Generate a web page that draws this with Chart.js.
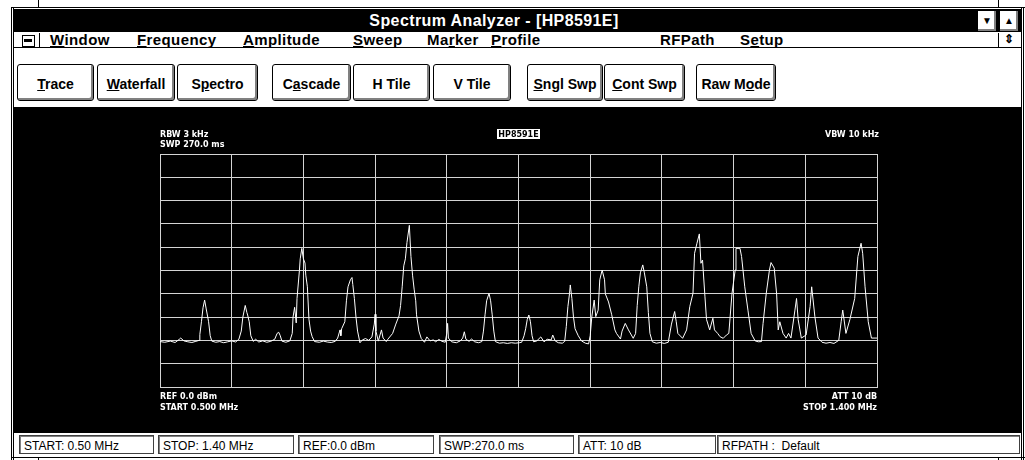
<!DOCTYPE html>
<html>
<head>
<meta charset="utf-8">
<title>Spectrum Analyzer - [HP8591E]</title>
<script src="https://cdn.jsdelivr.net/npm/chart.js@4.4.1/dist/chart.umd.min.js"></script>
<style>
  html, body { margin: 0; padding: 0; background: #fff; }
  body { width: 1025px; height: 460px; position: relative; overflow: hidden; font-family: "Liberation Sans", Arial, sans-serif; }
  .abs { position: absolute; }
  .line { position: absolute; background: #000; }
  #titlebar { left: 13px; top: 9px; width: 1008px; height: 23px; background: #000; }
  #titletext { left: 13px; top: 9px; width: 962px; height: 23px; line-height: 23px; text-align: center; color: #fff; font-weight: bold; font-size: 16px; letter-spacing: 0.4px; }
  .capbtn { position: absolute; width: 18px; height: 20px; background: #fff; border: 1px solid #000; box-shadow: inset -2px -2px 0 #808080; font-size: 10px; line-height: 20px; text-align: center; }
  #menubar { left: 13px; top: 33px; width: 1008px; height: 14px; border-bottom: 1px solid #000; }
  .menu { position: absolute; top: 31px; font-weight: bold; font-size: 15px; line-height: 17px; letter-spacing: 0.4px; }
  #toolbar { left: 13px; top: 48px; width: 1008px; height: 59px; border-bottom: 1px solid #000; }
  .btn { position: absolute; top: 64px; height: 35px; background: #fff; border: 1px solid #000; border-radius: 3px; box-shadow: inset -2px -2px 0 #808080, inset 1px 1px 0 #fff; font-weight: bold; font-size: 14px; line-height: 39px; text-align: center; box-sizing: content-box; }
  #scope { left: 13px; top: 108px; width: 1008px; height: 325px; background: #000; }
  .cell { position: absolute; top: 435px; height: 19px; border: 1px solid #404040; box-shadow: inset 1px 1px 0 #808080; font-size: 12px; line-height: 20px; padding-left: 4px; box-sizing: border-box; }
</style>
</head>
<body>
<!-- window frame -->
<div class="line" style="left:11px;top:7px;width:1014px;height:1px"></div>
<div class="line" style="left:38px;top:0;width:1px;height:7px"></div>
<div class="line" style="left:998px;top:0;width:1px;height:7px"></div>
<div class="line" style="left:11px;top:7px;width:1px;height:453px"></div>
<div class="line" style="left:13px;top:7px;width:1px;height:453px"></div>
<div class="line" style="left:1021px;top:7px;width:1px;height:453px"></div>
<div class="line" style="left:1023px;top:7px;width:1px;height:453px"></div>
<div class="line" style="left:11px;top:457px;width:1014px;height:1px"></div>
<div class="line" style="left:38px;top:457px;width:1px;height:3px"></div>
<div class="line" style="left:998px;top:457px;width:1px;height:3px"></div>

<div id="titlebar" class="abs"></div>
<div id="titletext" class="abs">Spectrum Analyzer - [HP8591E]</div>
<div class="capbtn" style="left:977px;top:10px">&#9660;</div>
<div class="capbtn" style="left:999px;top:10px">&#9650;</div>

<div id="menubar" class="abs"></div>
<div class="abs" style="left:22px;top:35px;width:11px;height:10px;border:1px solid #000;background:#fff"></div>
<div class="abs" style="left:24px;top:39px;width:8px;height:3px;background:#000"></div>
<div class="line" style="left:39px;top:33px;width:1px;height:14px"></div>
<div class="menu" style="left:50px"><u>W</u>indow</div>
<div class="menu" style="left:137px"><u>F</u>requency</div>
<div class="menu" style="left:243px"><u>A</u>mplitude</div>
<div class="menu" style="left:353px"><u>S</u>weep</div>
<div class="menu" style="left:427px">Ma<u>r</u>ker</div>
<div class="menu" style="left:491px"><u>P</u>rofile</div>
<div class="menu" style="left:660px">RFPath</div>
<div class="menu" style="left:740px">S<u>e</u>tup</div>
<div class="line" style="left:998px;top:33px;width:1px;height:14px"></div>
<div class="abs" style="left:1004px;top:32px;font-size:12px;font-weight:bold">&#8661;</div>

<div id="toolbar" class="abs"></div>
<div class="btn" style="left:17px;width:75px"><u>T</u>race</div>
<div class="btn" style="left:97px;width:76px"><u>W</u>aterfall</div>
<div class="btn" style="left:177px;width:79px">S<u>p</u>ectro</div>
<div class="btn" style="left:272px;width:77px">C<u>a</u>scade</div>
<div class="btn" style="left:353px;width:75px">H Tile</div>
<div class="btn" style="left:433px;width:76px">V Tile</div>
<div class="btn" style="left:527px;width:74px"><u>S</u>ngl Swp</div>
<div class="btn" style="left:604px;width:79px"><u>C</u>ont Swp</div>
<div class="btn" style="left:696px;width:78px">Raw M<u>o</u>de</div>

<div id="scope" class="abs"><canvas id="traceChart"></canvas></div>

<div class="cell" style="left:19px;width:135px">START: 0.50 MHz</div>
<div class="cell" style="left:158px;width:136px">STOP: 1.40 MHz</div>
<div class="cell" style="left:298px;width:136px">REF:0.0 dBm</div>
<div class="cell" style="left:439px;width:135px">SWP:270.0 ms</div>
<div class="cell" style="left:578px;width:138px">ATT: 10 dB</div>
<div class="cell" style="left:717px;width:303px">RFPATH :&nbsp; Default</div>

<script>
// trace: frequency (MHz) and level (dBm)
const traceFreq = [
  0.500, 0.506, 0.513, 0.519, 0.524, 0.526, 0.530, 0.535, 0.540, 0.545, 0.549,
  0.550, 0.552, 0.554, 0.556, 0.558, 0.561, 0.563, 0.565, 0.570, 0.575, 0.580,
  0.585, 0.590, 0.595, 0.599, 0.602, 0.604, 0.607, 0.609, 0.610, 0.612, 0.614,
  0.617, 0.620, 0.624, 0.629, 0.634, 0.639, 0.644, 0.647, 0.649, 0.651, 0.653,
  0.658, 0.663, 0.666, 0.667, 0.669, 0.671, 0.672, 0.675, 0.676, 0.678, 0.680,
  0.682, 0.683, 0.685, 0.687, 0.689, 0.691, 0.694, 0.700, 0.705, 0.710, 0.715,
  0.720, 0.723, 0.726, 0.727, 0.728, 0.732, 0.734, 0.736, 0.739, 0.741, 0.742,
  0.744, 0.746, 0.748, 0.751, 0.754, 0.758, 0.762, 0.766, 0.769, 0.770, 0.771,
  0.774, 0.778, 0.780, 0.784, 0.786, 0.792, 0.796, 0.800, 0.802, 0.804, 0.806,
  0.808, 0.810, 0.813, 0.815, 0.817, 0.819, 0.821, 0.822, 0.825, 0.828, 0.832,
  0.835, 0.839, 0.843, 0.846, 0.850, 0.854, 0.858, 0.860, 0.861, 0.862, 0.866,
  0.872, 0.877, 0.880, 0.882, 0.884, 0.888, 0.891, 0.895, 0.900, 0.904, 0.906,
  0.908, 0.910, 0.913, 0.915, 0.917, 0.919, 0.921, 0.926, 0.931, 0.936, 0.941,
  0.946, 0.951, 0.954, 0.957, 0.959, 0.961, 0.963, 0.965, 0.967, 0.969, 0.973,
  0.978, 0.982, 0.986, 0.991, 0.993, 0.996, 1.000, 1.005, 1.008, 1.010, 1.012,
  1.014, 1.015, 1.017, 1.019, 1.021, 1.025, 1.029, 1.034, 1.038, 1.040, 1.042,
  1.045, 1.047, 1.050, 1.052, 1.055, 1.058, 1.059, 1.063, 1.067, 1.071, 1.073,
  1.078, 1.080, 1.084, 1.088, 1.094, 1.097, 1.099, 1.101, 1.103, 1.106, 1.108,
  1.111, 1.113, 1.115, 1.118, 1.123, 1.128, 1.133, 1.138, 1.142, 1.146, 1.148,
  1.150, 1.156, 1.161, 1.165, 1.169, 1.171, 1.174, 1.177, 1.179, 1.181, 1.184,
  1.186, 1.190, 1.194, 1.196, 1.200, 1.203, 1.207, 1.211, 1.214, 1.218, 1.222,
  1.223, 1.228, 1.230, 1.234, 1.238, 1.242, 1.247, 1.251, 1.255, 1.257, 1.261,
  1.265, 1.267, 1.271, 1.274, 1.276, 1.278, 1.282, 1.286, 1.289, 1.292, 1.297,
  1.299, 1.301, 1.305, 1.311, 1.316, 1.318, 1.322, 1.326, 1.331, 1.336, 1.341,
  1.346, 1.352, 1.355, 1.357, 1.361, 1.366, 1.372, 1.376, 1.380, 1.382, 1.385,
  1.389, 1.393, 1.400
];
const traceLevel = [
  -80.5, -80.8, -80.3, -80.9, -79.6, -79.0, -80.2, -80.6, -80.9, -80.4, -80.0,
  -77.5, -72, -66, -62.7, -66.5, -72, -78, -80.3, -80.8, -80.5, -81.0,
  -80.6, -80.2, -80.7, -79.5, -76, -70, -65.0, -68, -69.1, -72, -78,
  -80.4, -79.5, -80.7, -80.2, -80.8, -80.4, -79.5, -77, -76.5, -78, -80.3,
  -80.8, -80.2, -77, -70, -65.8, -72.5, -62, -50, -45, -40.5, -45,
  -46.8, -52, -57, -71, -76, -78.4, -80.5, -80.8, -80.3, -80.7, -80.9,
  -80.4, -79, -75.5, -78, -75, -72, -63, -57, -54, -53, -56,
  -62, -70, -76, -81.0, -79.8, -79.2, -80.0, -78.5, -73, -68.8, -76,
  -80.3, -75.5, -79, -80.5, -79.5, -77, -73, -69.5, -65, -57, -48,
  -45, -38, -30.6, -44, -52, -58, -63, -69, -76, -79.2, -80.8,
  -78.5, -80.2, -79.8, -80.6, -79.6, -80.4, -80.8, -77, -72.7, -79, -80.6,
  -81.0, -80.2, -79, -76.3, -79.5, -80.4, -79.4, -80.6, -81, -80.5, -76,
  -69, -63, -59.8, -63, -69, -76, -80.5, -81.2, -81.0, -81.3, -81.0,
  -81.2, -81.0, -80.8, -78, -75, -71, -69.1, -72, -78, -80.6, -80.2,
  -78.5, -80.6, -79.5, -79.8, -77.7, -80.2, -81.0, -81.2, -80.4, -74, -65.5,
  -60, -56.2, -62, -70, -75, -78, -80.2, -81.2, -81.5, -78, -70,
  -62.7, -69.8, -67, -54, -49.8, -54, -60, -63.5, -69, -75.5, -77,
  -79.4, -76, -72.7, -75.5, -79.1, -77, -65, -57, -51, -47.6, -51,
  -57, -68, -77, -80.6, -81.2, -80.9, -81.3, -80.8, -73, -67.6, -72,
  -77, -79.1, -75.5, -65.5, -59.8, -42.6, -38.3, -34.3, -46.9, -45.5, -61,
  -71, -75.5, -70.5, -75.5, -77, -78.4, -79.1, -77.7, -77, -59.8, -49.8,
  -40.5, -40.5, -44, -57, -67, -77, -80.2, -80.6, -80.5, -72.7, -59.8,
  -49.8, -46.6, -49, -60, -75.5, -72, -77, -79, -77, -79, -67,
  -62, -71, -79, -77.7, -65.5, -57, -69.8, -79, -80.8, -81.2, -80.9,
  -81.3, -80, -72, -67, -77, -71, -62, -44, -38.3, -42.6, -57,
  -72, -79, -79
];

// graticule: 10 divisions each way
const freqDivs = [0.50, 0.59, 0.68, 0.77, 0.86, 0.95, 1.04, 1.13, 1.22, 1.31, 1.40];
const levelDivs = [0, -10, -20, -30, -40, -50, -60, -70, -80, -90, -100];

// instrument annotations around the graticule
const rbwText = "RBW 3 kHz";
const swpText = "SWP 270.0 ms";
const modelText = "HP8591E";
const vbwText = "VBW 10 kHz";
const refText = "REF 0.0 dBm";
const startText = "START 0.500 MHz";
const attText = "ATT 10 dB";
const stopText = "STOP 1.400 MHz";

const screenText = {
  id: "screenText",
  afterDraw(chart) {
    const { ctx, chartArea: a } = chart;
    ctx.save();
    ctx.font = 'bold 8px "DejaVu Sans"';
    ctx.fillStyle = "#fff";
    ctx.textBaseline = "alphabetic";
    ctx.textAlign = "left";
    ctx.fillText(rbwText, a.left, a.top - 17);
    ctx.fillText(swpText, a.left, a.top - 7);
    ctx.fillText(refText, a.left, a.bottom + 12);
    ctx.fillText(startText, a.left, a.bottom + 23);
    ctx.textAlign = "right";
    ctx.fillText(vbwText, a.right + 2, a.top - 17);
    ctx.fillText(attText, a.right, a.bottom + 12);
    ctx.fillText(stopText, a.right, a.bottom + 23);
    // model name in an inverted box
    const mid = (a.left + a.right) / 2;
    const w = ctx.measureText(modelText).width + 3;
    ctx.fillRect(Math.round(mid - w / 2), a.top - 25, Math.round(w), 10);
    ctx.fillStyle = "#000";
    ctx.textAlign = "center";
    ctx.fillText(modelText, mid, a.top - 17);
    ctx.restore();
  }
};

const ctx = document.getElementById("traceChart").getContext("2d");
new Chart(ctx, {
  type: "line",
  data: {
    datasets: [{
      data: traceFreq.map((f, i) => ({ x: f, y: traceLevel[i] })),
      borderColor: "#ffffff",
      borderWidth: 1,
      pointRadius: 0,
      tension: 0,
      fill: false
    }]
  },
  options: {
    responsive: true,
    maintainAspectRatio: false,
    animation: false,
    layout: { padding: { left: 147, top: 46, right: 144, bottom: 46 } },
    plugins: { legend: { display: false }, tooltip: { enabled: false } },
    scales: {
      x: {
        type: "linear",
        min: 0.5, max: 1.4,
        afterBuildTicks: s => { s.ticks = freqDivs.map(v => ({ value: v })); },
        ticks: { display: false },
        grid: { color: "#d4d4d4", lineWidth: 1, drawTicks: false },
        border: { color: "#d4d4d4", width: 1 }
      },
      y: {
        min: -100, max: 0,
        afterBuildTicks: s => { s.ticks = levelDivs.map(v => ({ value: v })); },
        ticks: { display: false },
        grid: { color: "#d4d4d4", lineWidth: 1, drawTicks: false },
        border: { color: "#d4d4d4", width: 1 }
      }
    }
  },
  plugins: [screenText]
});
</script>
</body>
</html>
